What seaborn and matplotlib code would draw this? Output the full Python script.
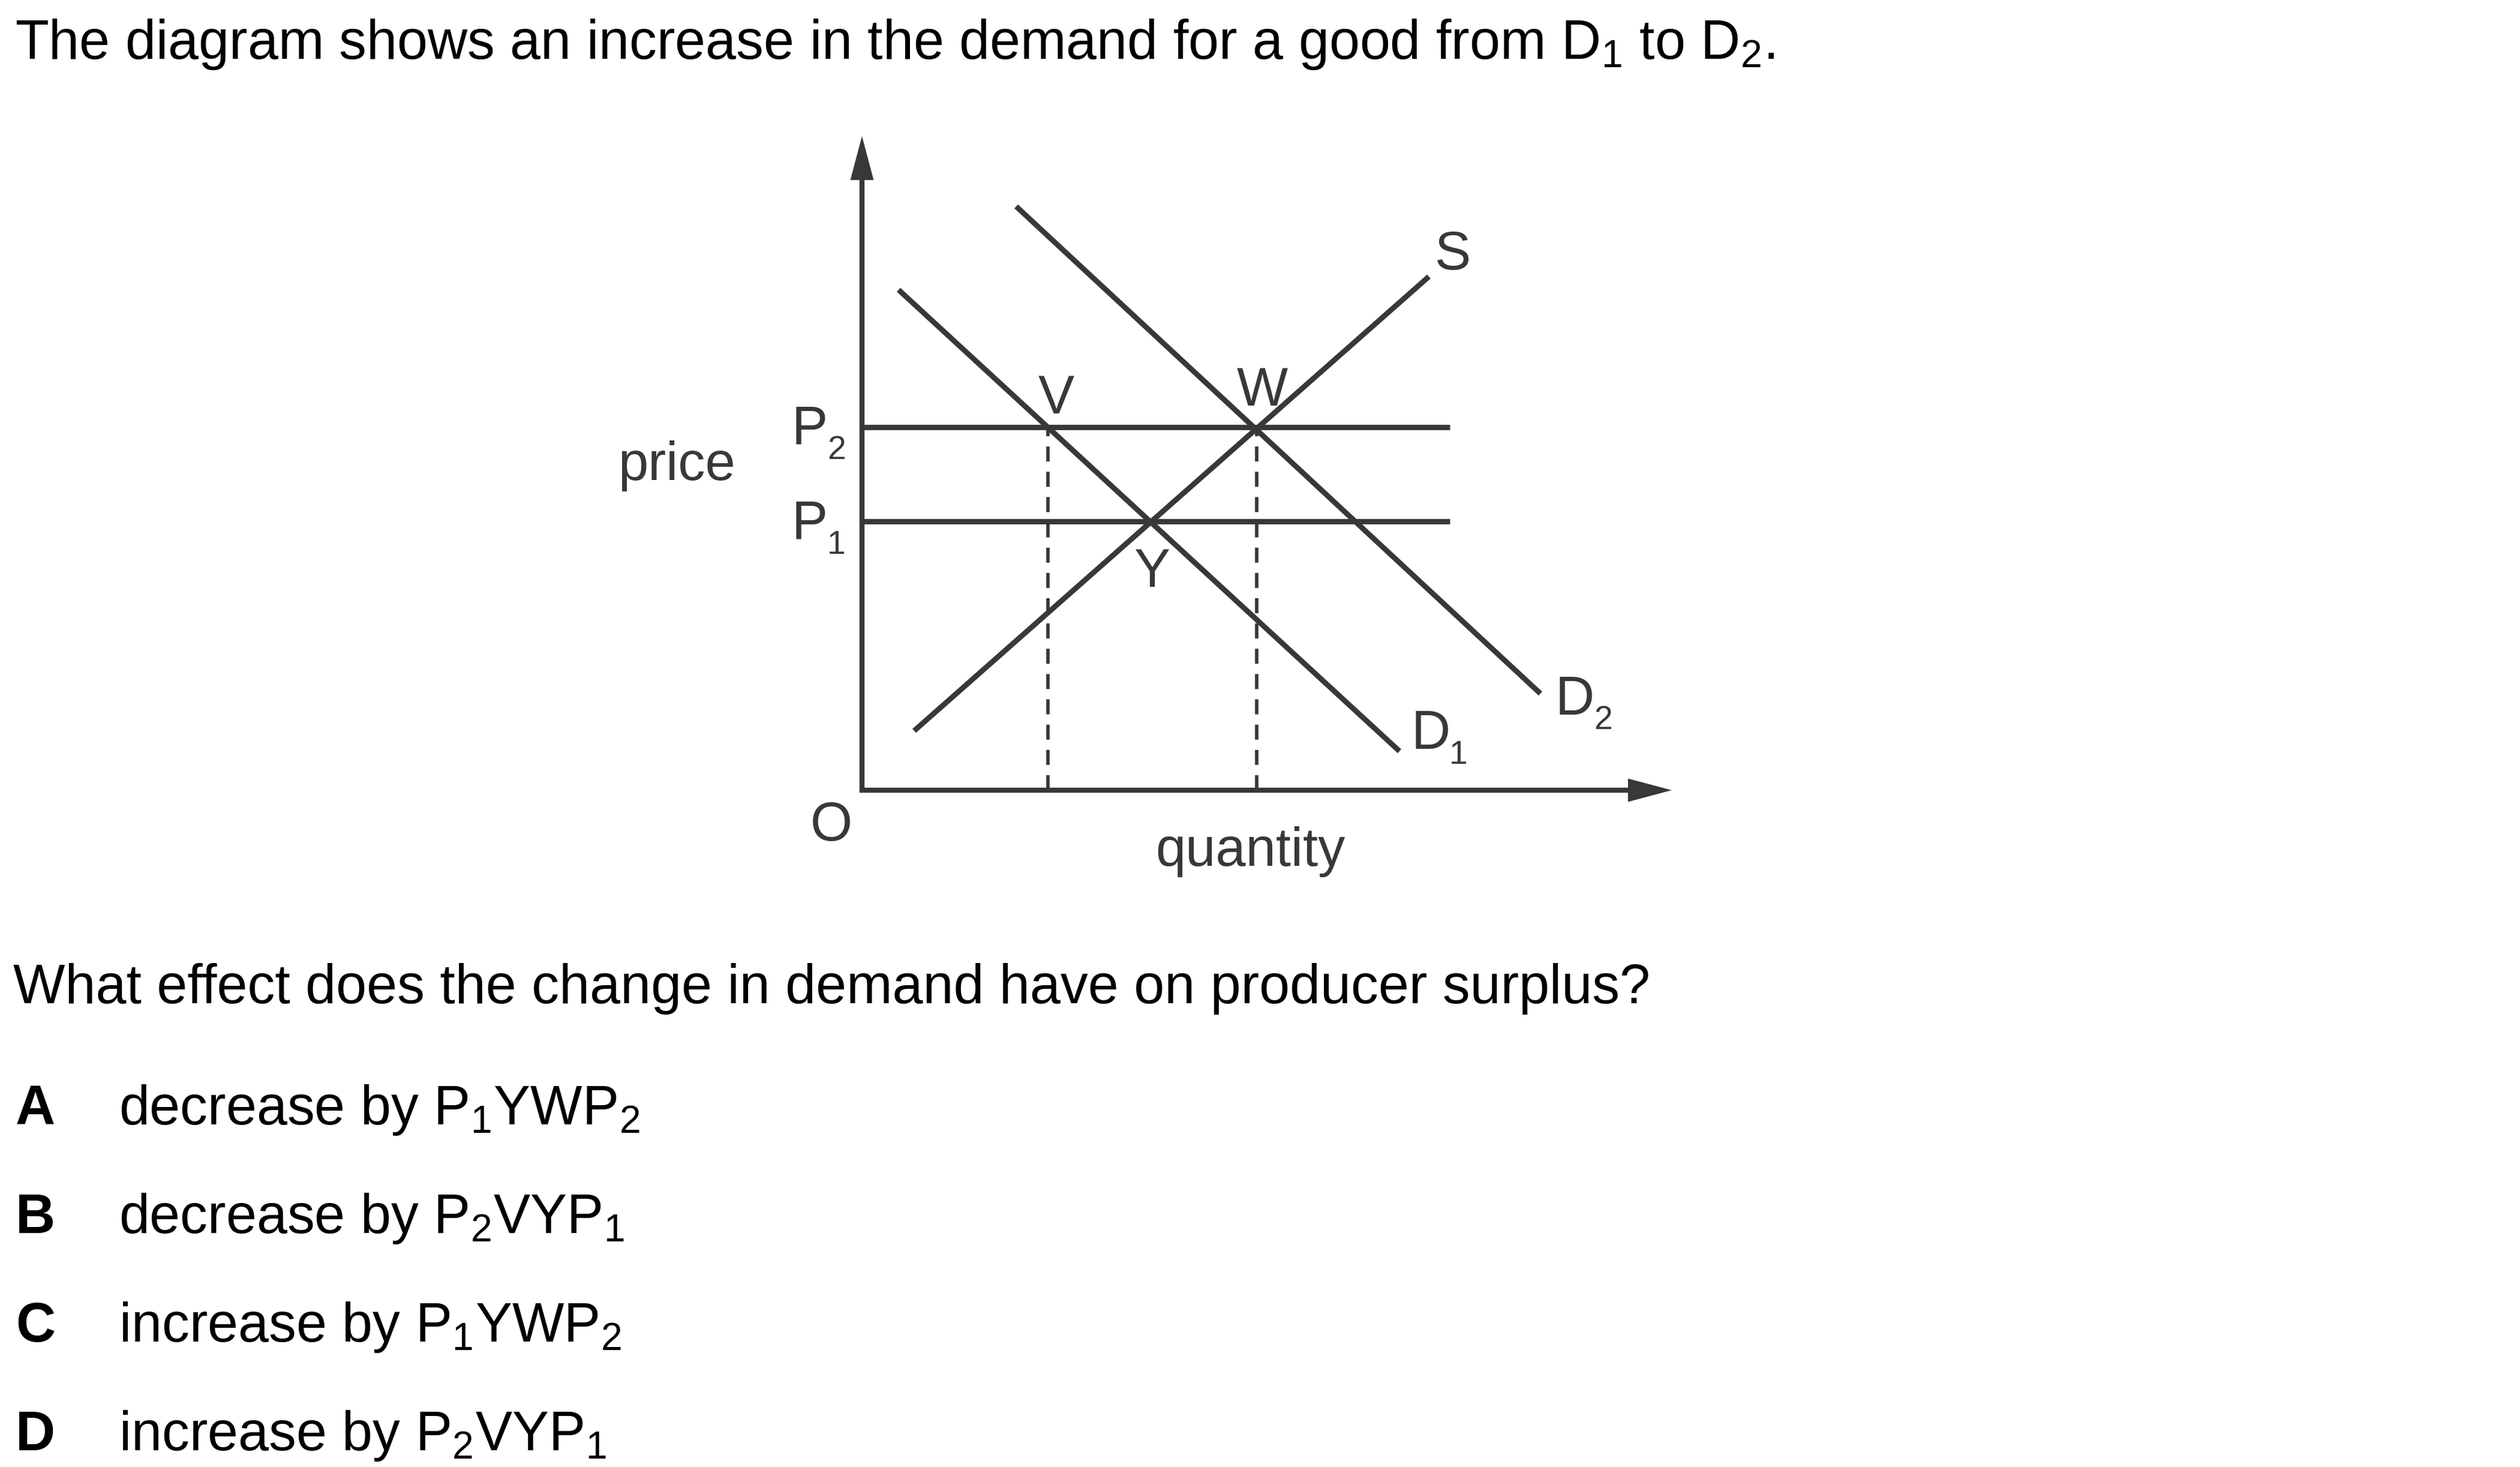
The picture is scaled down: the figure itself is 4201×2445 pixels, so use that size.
import numpy as np
import pandas as pd
import matplotlib.pyplot as plt
import seaborn as sns

# --- data (diagram units: 1 unit = 100 px of the picture, origin at the axis corner) ---
curve_names = ["S", "D1", "D2"]
curve_q = [[0.87, 9.45], [0.61, 8.96], [2.57, 11.31]]
curve_p = [[0.99, 8.56], [8.34, 0.65], [9.73, 1.61]]

price_names = ["P1", "P2"]
price_levels = [4.48, 6.05]
price_line_q = [0.0, 9.80]

dashed_names = ["V", "W"]
dashed_q = [3.10, 6.58]

axis_q_max = 13.50
axis_p_max = 10.90

title = "The diagram shows an increase in the demand for a good from D$_1$ to D$_2$."
question = "What effect does the change in demand have on producer surplus?"
option_letters = ["A", "B", "C", "D"]
option_texts = ["decrease by P$_1$YWP$_2$", "decrease by P$_2$VYP$_1$",
                "increase by P$_1$YWP$_2$", "increase by P$_2$VYP$_1$"]

# --- build tables for seaborn ---
curves = pd.DataFrame(
    [(n, q, p) for n, qs, ps in zip(curve_names, curve_q, curve_p) for q, p in zip(qs, ps)],
    columns=["curve", "quantity", "price"])
prices = pd.DataFrame(
    [(n, q, lvl) for n, lvl in zip(price_names, price_levels) for q in price_line_q],
    columns=["curve", "quantity", "price"])
dashed = pd.DataFrame(
    [(n, q, p) for n, q in zip(dashed_names, dashed_q) for p in (0.0, price_levels[1])],
    columns=["curve", "quantity", "price"])

# --- style ---
sns.set_theme(style="white")
plt.rcParams['font.family'] = ['Liberation Sans', 'DejaVu Sans']
plt.rcParams['mathtext.fontset'] = 'custom'
plt.rcParams['mathtext.rm'] = 'Liberation Sans'
plt.rcParams['mathtext.it'] = 'Liberation Sans'

W, H = 4201, 2445
LINE = '#383838'
LW = 6.4

fig = plt.figure(figsize=(W / 100, H / 100), dpi=100)
ax = fig.add_axes([0, 0, 1, 1])
ax.set_xlim(-14.37, W / 100 - 14.37)
ax.set_ylim(13.17 - H / 100, 13.17)
ax.set_axis_off()

common = dict(x="quantity", y="price", units="curve", estimator=None, sort=False,
              color=LINE, legend=False, ax=ax)
sns.lineplot(data=curves, linewidth=LW, solid_capstyle='butt', **common)
sns.lineplot(data=prices, linewidth=LW, solid_capstyle='butt', **common)
sns.lineplot(data=dashed, linewidth=4.1, linestyle=(0, (4.4, 3.0)), **common)

# axes with arrow heads
head_len = 0.73
ax.plot([0, 0, axis_q_max - head_len + 0.05], [axis_p_max - head_len + 0.05, 0, 0],
        color=LINE, lw=6.1, solid_joinstyle='miter', solid_capstyle='projecting')
for tip, tail in [((0, axis_p_max), (0, axis_p_max - head_len)),
                  ((axis_q_max, 0), (axis_q_max - head_len, 0))]:
    ax.annotate("", xy=tip, xytext=tail,
                arrowprops=dict(arrowstyle="-|>,head_length=0.526,head_width=0.14",
                                mutation_scale=100, lw=0, color=LINE,
                                shrinkA=0, shrinkB=0))

# diagram labels
FS = 65
SUB = 40
lab = dict(color=LINE, fontsize=FS, ha='center', va='baseline')
sub = dict(color=LINE, fontsize=SUB, ha='center', va='baseline')
ax.text(9.85, 8.68, "S", **lab)
ax.text(3.24, 6.28, "V", **lab)
ax.text(6.67, 6.41, "W", **lab)
ax.text(4.83, 3.39, "Y", **lab)
ax.text(9.48, 0.69, "D", **lab)
ax.text(9.94, 0.44, "1", **sub)
ax.text(11.88, 1.26, "D", **lab)
ax.text(12.36, 1.02, "2", **sub)
ax.text(-0.87, 5.77, "P", **lab)
ax.text(-0.42, 5.52, "2", **sub)
ax.text(-0.87, 4.19, "P", **lab)
ax.text(-0.43, 3.94, "1", **sub)
ax.text(-3.09, 5.17, "price", **lab)
ax.text(-0.51, -0.84, "O", **lab)
ax.text(6.47, -1.26, "quantity", **lab)

# question text
TFS = 66
fig.text(25 / W, 1 - 98 / H, title, fontsize=TFS, color='black', va='baseline')
fig.text(22 / W, 1 - 1672 / H, question, fontsize=TFS, color='black', va='baseline')
baselines = [1874, 2055, 2236, 2417]
for letter, txt, b in zip(option_letters, option_texts, baselines):
    fig.text(26 / W, 1 - b / H, letter, fontsize=TFS, fontweight='bold',
             color='black', va='baseline')
    fig.text(198 / W, 1 - b / H, txt, fontsize=TFS, color='black', va='baseline')

fig.savefig("out.png", dpi=100, facecolor='white')
plt.close(fig)
